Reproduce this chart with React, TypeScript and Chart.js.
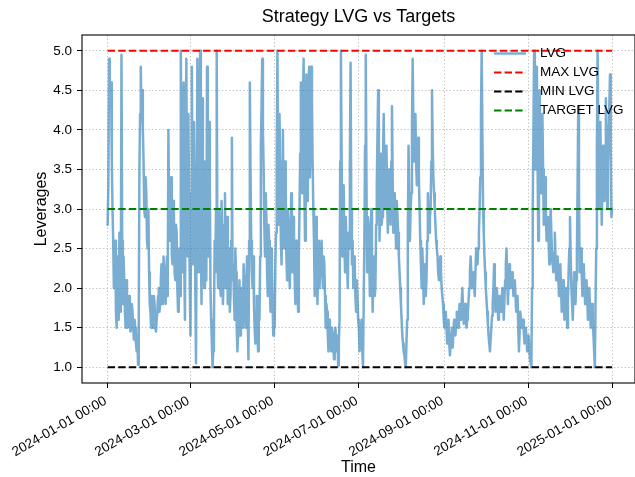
import React, { useEffect, useRef } from 'react';
import { Chart, registerables } from 'chart.js';

Chart.register(...registerables);

// ---------- data ----------
const START_DATE = '2024-01-01';

// LVG read at 00:00 of each day
const lvgJan = [2.8, 4.9, 4.3, 3.6, 2.6, 2.2, 1.7, 2.4, 1.6, 2.2, 4.95, 1.8, 2.1, 1.5, 1.9, 1.6, 1.8, 1.5, 1.7, 1.35, 1.5, 1.2, 1.03, 3.5, 4.8, 4.5, 3.6, 2.9, 3.2, 2.5, 2.2];
const lvgFeb = [1.7, 1.9, 1.5, 1.8, 1.45, 1.7, 2.0, 1.8, 2.3, 1.9, 2.2, 1.8, 2.4, 4.0, 2.6, 3.4, 2.3, 2.9, 2.1, 2.7, 1.7, 2.5, 5.0, 2.2, 4.6, 1.6, 4.9, 2.4, 3.0];
const lvgMar = [1.4, 4.8, 2.3, 3.2, 1.05, 4.9, 2.2, 5.0, 1.8, 3.5, 2.0, 2.8, 4.8, 2.4, 3.4, 1.6, 1.0, 1.5, 2.2, 5.0, 2.0, 2.5, 1.9, 2.7, 2.1, 3.2, 2.4, 1.8, 2.5, 1.9, 3.9];
const lvgApr = [2.3, 1.6, 2.2, 1.2, 1.7, 1.4, 2.0, 1.6, 2.1, 1.5, 2.4, 1.1, 4.6, 2.6, 2.0, 1.8, 1.3, 1.9, 1.2, 1.6, 3.8, 4.9, 3.5, 2.4, 2.9, 1.9, 2.6, 1.7, 2.3, 1.4];
const lvgMay = [1.5, 2.7, 5.0, 2.8, 3.6, 2.3, 4.0, 2.5, 3.3, 2.1, 2.8, 2.0, 3.2, 2.2, 2.7, 1.8, 2.3, 1.7, 3.0, 4.6, 3.2, 4.9, 2.6, 4.7, 3.1, 4.8, 3.8, 4.4, 3.0, 1.9, 2.9];
const lvgJun = [1.8, 2.6, 2.3, 2.6, 2.0, 2.3, 1.5, 1.7, 1.2, 1.5, 1.2, 1.4, 1.1, 1.5, 1.2, 1.02, 1.6, 5.0, 2.4, 3.3, 2.2, 2.6, 2.0, 2.5, 4.85, 2.3, 2.0, 2.3, 1.7, 1.9];
const lvgJul = [1.5, 1.3, 1.6, 1.0, 2.6, 4.95, 2.2, 2.8, 1.9, 3.0, 1.7, 2.4, 2.0, 3.3, 4.5, 2.6, 3.7, 2.9, 4.2, 3.0, 3.8, 2.7, 3.5, 2.8, 4.3, 2.7, 3.2, 2.5, 2.9, 2.4, 2.0];
const lvgAug = [1.6, 1.3, 1.15, 1.0, 1.6, 3.8, 2.6, 3.2, 4.9, 3.6, 4.2, 3.3, 3.9, 3.0, 2.3, 2.5, 1.8, 2.3, 2.1, 3.2, 2.7, 3.0, 4.5, 3.4, 3.0, 2.6, 2.4, 2.1, 2.4, 2.0, 1.8];
const lvgSep = [1.5, 1.7, 1.3, 1.6, 1.15, 1.4, 1.25, 1.6, 1.4, 1.7, 1.5, 1.8, 1.6, 2.0, 1.55, 1.8, 1.5, 1.7, 2.0, 2.4, 2.0, 2.2, 1.9, 2.5, 2.3, 2.7, 3.4, 5.0, 3.0, 2.4];
const lvgOct = [2.0, 1.7, 1.4, 1.2, 1.5, 1.8, 2.3, 1.7, 2.0, 1.6, 1.9, 1.7, 2.0, 1.6, 2.1, 2.5, 1.8, 2.3, 2.0, 2.2, 1.9, 2.1, 1.7, 1.9, 1.2, 1.7, 1.5, 1.6, 1.3, 1.5, 1.2];
const lvgNov = [1.4, 1.1, 1.0, 3.0, 5.0, 3.5, 4.8, 2.6, 4.5, 3.2, 4.2, 2.8, 3.4, 2.6, 2.9, 2.3, 3.0, 2.4, 2.2, 2.7, 2.1, 2.4, 1.9, 2.3, 1.7, 2.1, 1.6, 2.0, 1.5, 2.2];
const lvgDec = [2.9, 2.0, 1.6, 2.2, 1.8, 2.4, 4.3, 2.2, 2.5, 1.9, 2.3, 1.8, 2.1, 1.6, 2.0, 1.5, 1.8, 1.4, 1.0, 2.5, 5.0, 3.0, 4.1, 2.8, 3.8, 3.1, 4.4, 3.0, 4.0, 4.7, 2.9];

// LVG read at 12:00 of each day
const lvgJanPm = [3.3, 4.4, 4.6, 3.0, 2.0, 2.6, 1.5, 2.0, 2.7, 1.7, 2.6, 2.4, 1.7, 2.1, 1.5, 1.9, 1.45, 1.8, 1.5, 1.6, 1.3, 1.4, 1.5, 4.2, 4.1, 4.0, 3.0, 3.4, 2.6, 3.0, 1.8];
const lvgFebPm = [1.5, 1.7, 1.9, 1.5, 1.6, 1.9, 1.7, 2.1, 1.8, 2.4, 1.9, 2.2, 1.9, 3.0, 3.2, 2.4, 3.1, 2.2, 2.8, 2.0, 2.4, 1.9, 3.2, 3.5, 2.3, 3.6, 2.8, 4.2, 2.0];
const lvgMarPm = [3.2, 2.9, 4.1, 2.0, 3.0, 3.3, 4.0, 2.6, 4.4, 2.3, 3.6, 2.1, 2.9, 4.1, 2.0, 1.3, 1.2, 2.6, 3.0, 2.4, 3.0, 2.0, 3.1, 1.8, 2.8, 2.0, 2.9, 2.2, 1.7, 2.6, 2.1];
const lvgAprPm = [1.9, 2.5, 1.5, 1.4, 2.1, 1.8, 1.5, 2.3, 1.7, 2.0, 1.6, 2.6, 3.5, 2.2, 2.4, 1.5, 1.7, 1.4, 1.9, 2.4, 4.3, 4.0, 2.8, 3.2, 2.2, 2.8, 2.0, 2.5, 1.8, 1.9];
const lvgMayPm = [2.3, 3.6, 3.4, 4.2, 2.6, 3.0, 2.7, 3.6, 2.4, 3.0, 2.3, 2.6, 2.7, 2.9, 2.1, 2.6, 2.0, 2.4, 3.7, 3.9, 4.4, 3.3, 4.2, 3.6, 4.6, 3.4, 4.8, 3.6, 2.6, 2.8, 2.3];
const lvgJunPm = [2.2, 2.0, 2.5, 2.2, 2.4, 1.9, 1.8, 1.4, 1.6, 1.3, 1.5, 1.3, 1.4, 1.3, 1.4, 1.3, 3.6, 3.7, 2.8, 2.6, 2.9, 2.3, 2.7, 3.6, 3.0, 2.6, 2.4, 1.9, 2.1, 1.6];
const lvgJulPm = [1.2, 1.5, 1.2, 1.8, 3.8, 3.4, 2.9, 2.4, 2.6, 2.2, 2.1, 1.9, 2.8, 3.9, 3.5, 3.3, 2.8, 3.6, 3.5, 3.4, 3.1, 3.3, 3.0, 3.6, 3.4, 3.0, 2.8, 3.1, 2.7, 2.2, 1.8];
const lvgAugPm = [1.4, 1.2, 1.05, 1.3, 2.7, 3.2, 3.0, 4.0, 4.1, 3.8, 3.6, 3.7, 3.4, 2.6, 2.0, 2.2, 2.0, 1.9, 2.6, 2.9, 2.9, 3.6, 3.8, 3.2, 2.8, 2.5, 2.2, 2.2, 2.2, 1.9, 1.6];
const lvgSepPm = [1.6, 1.5, 1.45, 1.3, 1.3, 1.5, 1.45, 1.5, 1.55, 1.6, 1.65, 1.7, 1.8, 1.75, 1.7, 1.6, 1.6, 1.85, 2.2, 2.2, 2.1, 2.05, 2.2, 2.4, 2.5, 3.0, 4.2, 4.0, 2.7, 2.2];
const lvgOctPm = [1.85, 1.55, 1.3, 1.35, 1.65, 2.0, 2.0, 1.85, 1.8, 1.75, 1.8, 1.85, 1.8, 1.85, 2.3, 2.15, 2.05, 2.15, 2.1, 2.05, 2.0, 1.9, 1.8, 1.5, 1.45, 1.6, 1.55, 1.45, 1.4, 1.35, 1.3];
const lvgNovPm = [1.25, 1.05, 2.0, 4.0, 4.2, 4.2, 3.6, 3.7, 3.8, 3.7, 3.5, 3.1, 3.0, 2.75, 2.6, 2.65, 2.7, 2.3, 2.45, 2.4, 2.25, 2.15, 2.1, 2.0, 1.9, 1.85, 1.8, 1.75, 1.85, 2.5];
const lvgDecPm = [2.4, 1.8, 1.9, 2.0, 2.1, 3.3, 3.2, 2.3, 2.2, 2.1, 2.0, 1.95, 1.85, 1.8, 1.75, 1.65, 1.6, 1.2, 1.8, 3.8, 4.0, 3.6, 3.4, 3.3, 3.4, 3.8, 3.6, 3.5, 4.3, 3.8, 3.0];

const MAX_LVG = 5.0;
const MIN_LVG = 1.0;
const TARGET_LVG = 3.0;

const xTickDates = ['2024-01-01', '2024-03-01', '2024-05-01', '2024-07-01', '2024-09-01', '2024-11-01', '2025-01-01'];
const yTickValues = [1.0, 1.5, 2.0, 2.5, 3.0, 3.5, 4.0, 4.5, 5.0];
const seriesNames = ['LVG', 'MAX LVG', 'MIN LVG', 'TARGET LVG'];
const TITLE = 'Strategy LVG vs Targets';
const X_LABEL = 'Time';
const Y_LABEL = 'Leverages';

// ---------- helpers ----------
const amValues = [...lvgJan, ...lvgFeb, ...lvgMar, ...lvgApr, ...lvgMay, ...lvgJun, ...lvgJul, ...lvgAug, ...lvgSep, ...lvgOct, ...lvgNov, ...lvgDec];
const pmValues = [...lvgJanPm, ...lvgFebPm, ...lvgMarPm, ...lvgAprPm, ...lvgMayPm, ...lvgJunPm, ...lvgJulPm, ...lvgAugPm, ...lvgSepPm, ...lvgOctPm, ...lvgNovPm, ...lvgDecPm];
const DAY_MS = 86400000;
const dayOf = (iso: string) => (Date.parse(iso + 'T00:00:00Z') - Date.parse(START_DATE + 'T00:00:00Z')) / DAY_MS;
const xTickDays = xTickDates.map(dayOf);
const xTickLabels = xTickDates.map((d) => d + ' 00:00');

const FONT = "'Liberation Sans', Arial, sans-serif";
const LVG_COLOR = 'rgba(31,119,180,0.6)';
const COLORS = [LVG_COLOR, '#ff0000', '#000000', '#008000'];
const DASH = [7.4, 3.2];

export default function App() {
  const ref = useRef<HTMLCanvasElement | null>(null);

  useEffect(() => {
    if (!ref.current) return;
    const lvgPoints: { x: number; y: number }[] = [];
    amValues.forEach((v, i) => {
      lvgPoints.push({ x: i, y: v });
      if (i < pmValues.length) lvgPoints.push({ x: i + 0.5, y: pmValues[i] });
    });
    const first = lvgPoints[0].x;
    const last = lvgPoints[lvgPoints.length - 1].x;
    const hLine = (y: number) => [{ x: first, y }, { x: last, y }];

    const decor = {
      id: 'decor',
      afterDraw(chart: any) {
        const { ctx, chartArea: a } = chart;
        ctx.save();
        ctx.strokeStyle = '#000';
        ctx.lineWidth = 1.1;
        ctx.setLineDash([]);
        ctx.strokeRect(a.left, a.top, a.right - a.left, a.bottom - a.top);
        ctx.fillStyle = '#000';
        ctx.textAlign = 'center';
        ctx.textBaseline = 'middle';
        ctx.font = `18px ${FONT}`;
        ctx.fillText(TITLE, (a.left + a.right) / 2, 17);
        ctx.font = `16px ${FONT}`;
        ctx.fillText(X_LABEL, (a.left + a.right) / 2, 468);
        ctx.save();
        ctx.translate(42, (a.top + a.bottom) / 2);
        ctx.rotate(-Math.PI / 2);
        ctx.fillText(Y_LABEL, 0, 0);
        ctx.restore();
        const rows = [53.5, 72.5, 91.5, 110.5];
        ctx.font = `13.5px ${FONT}`;
        ctx.textAlign = 'left';
        seriesNames.forEach((name, i) => {
          const y = rows[i];
          ctx.beginPath();
          ctx.strokeStyle = COLORS[i];
          if (i === 0) {
            ctx.lineWidth = 2.5;
            ctx.setLineDash([]);
          } else {
            ctx.lineWidth = 2;
            ctx.setLineDash(DASH);
          }
          ctx.moveTo(494, y);
          ctx.lineTo(526, y);
          ctx.stroke();
          ctx.setLineDash([]);
          ctx.fillStyle = '#000';
          ctx.fillText(name, 540, y);
        });
        ctx.restore();
      },
    };

    const gridOpts = { color: '#b8b8b8', lineWidth: 0.8, tickColor: '#000', tickLength: 5, tickWidth: 1, drawTicks: true };
    const borderOpts = { display: false, dash: [1.5, 2] };

    const chart = new Chart(ref.current, {
      type: 'line',
      data: {
        datasets: [
          { label: seriesNames[1], data: hLine(MAX_LVG), borderColor: COLORS[1], borderWidth: 2, borderDash: DASH, pointRadius: 0, order: 1, borderCapStyle: 'butt' },
          { label: seriesNames[2], data: hLine(MIN_LVG), borderColor: COLORS[2], borderWidth: 2, borderDash: DASH, pointRadius: 0, order: 2, borderCapStyle: 'butt' },
          { label: seriesNames[3], data: hLine(TARGET_LVG), borderColor: COLORS[3], borderWidth: 2, borderDash: DASH, pointRadius: 0, order: 3, borderCapStyle: 'butt' },
          { label: seriesNames[0], data: lvgPoints, borderColor: LVG_COLOR, borderWidth: 2.5, pointRadius: 0, order: 4, borderJoinStyle: 'round', borderCapStyle: 'round', tension: 0 },
        ],
      } as any,
      options: {
        responsive: false,
        devicePixelRatio: 1,
        animation: false,
        layout: { padding: { top: 35, left: 0, right: 0, bottom: 0 } },
        plugins: { legend: { display: false }, title: { display: false }, tooltip: { enabled: false } },
        scales: {
          x: {
            type: 'linear',
            min: -18.6,
            max: 382.1,
            afterBuildTicks: (s: any) => { s.ticks = xTickDays.map((v) => ({ value: v })); },
            afterFit: (s: any) => { s.height = 94; s.paddingLeft = 0; s.paddingRight = 0; },
            ticks: {
              autoSkip: false,
              minRotation: 30,
              maxRotation: 30,
              padding: 5,
              labelOffset: -2,
              font: { family: FONT, size: 13.5 },
              color: '#000',
              callback: (_v: any, i: number) => xTickLabels[i],
            },
            grid: gridOpts,
            border: borderOpts,
          },
          y: {
            type: 'linear',
            min: 0.8,
            max: 5.2,
            afterBuildTicks: (s: any) => { s.ticks = yTickValues.map((v) => ({ value: v })); },
            afterFit: (s: any) => { s.width = 82; s.paddingTop = 0; s.paddingBottom = 0; },
            ticks: {
              padding: 5,
              font: { family: FONT, size: 13.5 },
              color: '#000',
              callback: (v: any) => Number(v).toFixed(1),
            },
            grid: gridOpts,
            border: borderOpts,
          },
        },
      } as any,
      plugins: [decor],
    });
    return () => chart.destroy();
  }, []);

  return (
    <div style={{ position: 'absolute', left: 0, top: 0, width: 635, height: 477, background: '#fff' }}>
      <canvas ref={ref} width={635} height={477} style={{ display: 'block', width: 635, height: 477 }} />
    </div>
  );
}
